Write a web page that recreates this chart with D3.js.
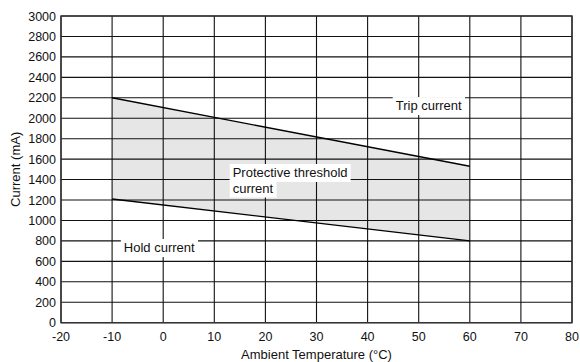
<!DOCTYPE html>
<html>
<head>
<meta charset="utf-8">
<script src="https://cdn.jsdelivr.net/npm/d3@7"></script>
<style>
  body { margin: 0; background: #fff; }
  text { font-family: "Liberation Sans", Arial, sans-serif; fill: #111; }
</style>
</head>
<body>
<div id="chart"></div>
<script>
// Data
var temps = [-10, 60];
var tripCurrent = [2200, 1530];
var holdCurrent = [1210, 800];
var xTicks = [-20, -10, 0, 10, 20, 30, 40, 50, 60, 70, 80];
var yTicks = d3.range(0, 3001, 200);

var width = 580;
var height = 362;
var margin = { top: 16, right: 8, bottom: 39.3, left: 61 };
var innerWidth = width - margin.left - margin.right;
var innerHeight = height - margin.top - margin.bottom;

var svg = d3
  .select("#chart")
  .append("svg")
  .attr("width", width)
  .attr("height", height);

var g = svg
  .append("g")
  .attr("transform", "translate(" + margin.left + "," + margin.top + ")");

var x = d3.scaleLinear().domain([-20, 80]).range([0, innerWidth]);
var y = d3.scaleLinear().domain([0, 3000]).range([innerHeight, 0]);

// Shaded band between hold and trip current
var band = temps.map(function (t, i) {
  return { t: t, hi: tripCurrent[i], lo: holdCurrent[i] };
});

g.append("path")
  .datum(band)
  .attr("fill", "#e6e6e6")
  .attr(
    "d",
    d3
      .area()
      .x((d) => x(d.t))
      .y0((d) => y(d.lo))
      .y1((d) => y(d.hi))
  );

// Grid lines
g.selectAll(".hgrid")
  .data(yTicks)
  .enter()
  .append("line")
  .attr("x1", 0)
  .attr("x2", innerWidth)
  .attr("y1", (d) => y(d))
  .attr("y2", (d) => y(d))
  .attr("stroke", "#111")
  .attr("stroke-width", 1.1);

g.selectAll(".vgrid")
  .data(xTicks)
  .enter()
  .append("line")
  .attr("x1", (d) => x(d))
  .attr("x2", (d) => x(d))
  .attr("y1", 0)
  .attr("y2", innerHeight)
  .attr("stroke", "#111")
  .attr("stroke-width", 1.1);

// Frame
g.append("rect")
  .attr("width", innerWidth)
  .attr("height", innerHeight)
  .attr("fill", "none")
  .attr("stroke", "#333")
  .attr("stroke-width", 1.4);

// Curves
var line = d3
  .line()
  .x((d) => x(d[0]))
  .y((d) => y(d[1]));

[tripCurrent, holdCurrent].forEach(function (series) {
  g.append("path")
    .datum(temps.map((t, i) => [t, series[i]]))
    .attr("fill", "none")
    .attr("stroke", "#000")
    .attr("stroke-width", 1.4)
    .attr("d", line);
});

// Tick labels
g.selectAll(".ylab")
  .data(yTicks)
  .enter()
  .append("text")
  .attr("x", -5)
  .attr("y", (d) => y(d))
  .attr("dy", "0.36em")
  .attr("text-anchor", "end")
  .attr("font-size", "12.5px")
  .text((d) => d);

g.selectAll(".xlab")
  .data(xTicks)
  .enter()
  .append("text")
  .attr("x", (d) => x(d))
  .attr("y", innerHeight + 18.5)
  .attr("text-anchor", "middle")
  .attr("font-size", "12.5px")
  .text((d) => d);

// Axis titles
svg.append("text")
  .attr("x", margin.left + innerWidth / 2)
  .attr("y", 359)
  .attr("text-anchor", "middle")
  .attr("font-size", "13px")
  .text("Ambient Temperature (\u00b0C)");

svg.append("text")
  .attr("transform", "translate(20," + (margin.top + innerHeight / 2) + ") rotate(-90)")
  .attr("text-anchor", "middle")
  .attr("font-size", "13px")
  .text("Current (mA)");

// Annotations with white backgrounds
function label(lines, tx, ty) {
  var grp = g.append("g");
  var bg = grp.append("g");
  lines.forEach(function (s, i) {
    var t = grp
      .append("text")
      .attr("x", x(tx))
      .attr("y", y(ty) + i * 15.5)
      .attr("font-size", "13px")
      .text(s);
    var b = t.node().getBBox();
    bg.append("rect")
      .attr("x", b.x - 3)
      .attr("y", b.y - 1)
      .attr("width", b.width + 6)
      .attr("height", b.height + 3)
      .attr("fill", "#fff");
  });
}

label(["Trip current"], 45.5, 2080);
label(["Protective threshold", "current"], 13.6, 1425);
label(["Hold current"], -7.7, 691);
</script>
</body>
</html>
